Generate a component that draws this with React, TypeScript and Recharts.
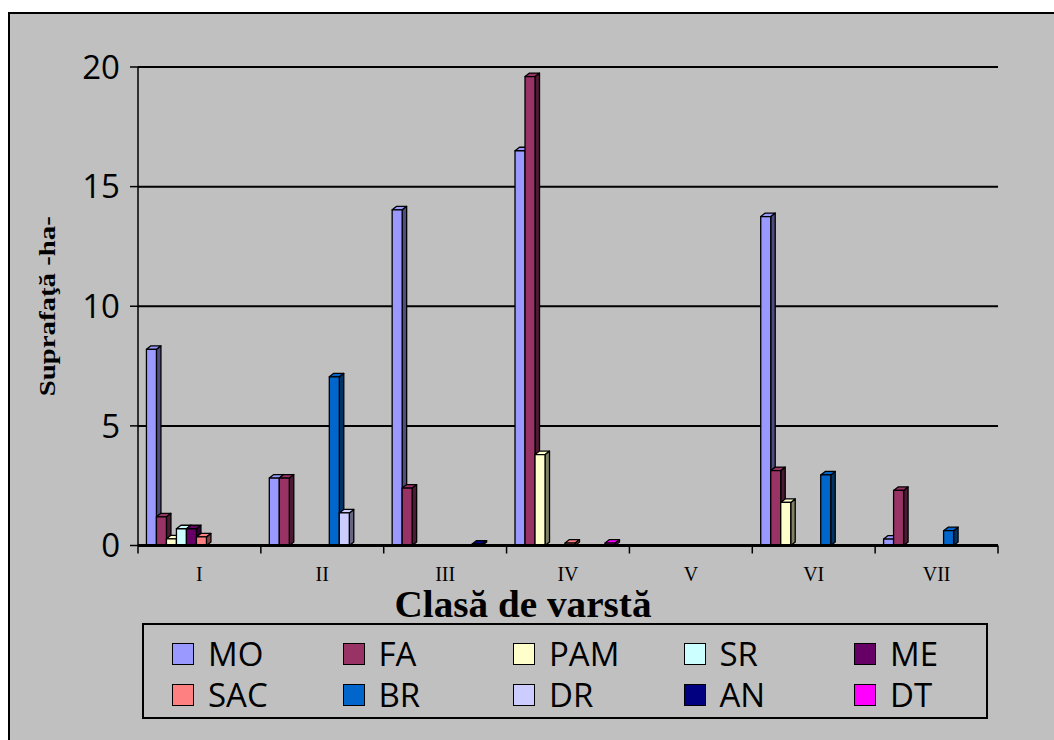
import { Bar, BarChart, CartesianGrid, Legend, XAxis, YAxis } from 'recharts';

const CATEGORIES = ['I', 'II', 'III', 'IV', 'V', 'VI', 'VII'];

const MO = [8.2, 2.82, 14.03, 16.5, 0, 13.75, 0.27];
const FA = [1.2, 2.82, 2.4, 19.6, 0, 3.13, 2.3];
const PAM = [0.28, 0, 0, 3.8, 0, 1.8, 0];
const SR = [0.7, 0, 0, 0, 0, 0, 0];
const ME = [0.7, 0, 0, 0, 0, 0, 0];
const SAC = [0.36, 0, 0, 0.1, 0, 0, 0];
const BR = [0, 7.05, 0, 0, 0, 2.95, 0.62];
const DR = [0, 1.36, 0, 0, 0, 0, 0];
const AN = [0, 0, 0.06, 0, 0, 0, 0];
const DT = [0, 0, 0, 0.1, 0, 0, 0];

const Y_TICKS = [0, 5, 10, 15, 20];

const SERIES = [
  { key: 'MO', values: MO, color: '#9999FF' },
  { key: 'FA', values: FA, color: '#993366' },
  { key: 'PAM', values: PAM, color: '#FFFFCC' },
  { key: 'SR', values: SR, color: '#CCFFFF' },
  { key: 'ME', values: ME, color: '#660066' },
  { key: 'SAC', values: SAC, color: '#FF8080' },
  { key: 'BR', values: BR, color: '#0066CC' },
  { key: 'DR', values: DR, color: '#CCCCFF' },
  { key: 'AN', values: AN, color: '#000080' },
  { key: 'DT', values: DT, color: '#FF00FF' },
];
const SERIES_ORDER = SERIES.map((s) => s.key);

const data = CATEGORIES.map((name, i) => {
  const row: Record<string, string | number> = { name };
  SERIES.forEach((s) => {
    row[s.key] = s.values[i];
  });
  return row;
});

const CHART_W = 1054;
const CHART_H = 740;
const MARGIN = { top: 67, right: 56, bottom: 164.5, left: 38 };
const Y_AXIS_W = 100;
const PLOT_W = CHART_W - MARGIN.left - MARGIN.right - Y_AXIS_W;
const BAND = PLOT_W / CATEGORIES.length;

const SANS = '"Open Sans", "Noto Sans", sans-serif';
const SERIF = '"Liberation Serif", "DejaVu Serif", serif';

function shade(hex: string, k: number): string {
  const n = parseInt(hex.slice(1), 16);
  const r = Math.round(((n >> 16) & 255) * k);
  const g = Math.round(((n >> 8) & 255) * k);
  const b = Math.round((n & 255) * k);
  return `rgb(${r},${g},${b})`;
}

// excel-ish 3d column: front face + side + top
function Column3D(props: any) {
  const { x, y, width, height, fill } = props;
  if (!height || height <= 0) return null;
  const dx = 4.5;
  const dy = 3.5;
  const x0 = x - 2;
  const w = width;
  const side = `${x0 + w},${y} ${x0 + w + dx},${y - dy} ${x0 + w + dx},${y + height - dy} ${x0 + w},${y + height}`;
  const top = `${x0},${y} ${x0 + dx},${y - dy} ${x0 + w + dx},${y - dy} ${x0 + w},${y}`;
  return (
    <g stroke="#000" strokeWidth={1.3} strokeLinejoin="round">
      <polygon points={side} fill={shade(fill, 0.5)} />
      <polygon points={top} fill={fill} />
      <rect x={x0} y={y} width={w} height={height} fill={fill} />
    </g>
  );
}

function CategoryTick(props: any) {
  const { x, y, payload, index } = props;
  const left = x - BAND / 2;
  const isLast = index === CATEGORIES.length - 1;
  return (
    <g>
      <line x1={left} y1={y} x2={left} y2={y + 8} stroke="#000" strokeWidth={1.5} />
      {isLast && (
        <line x1={x + BAND / 2} y1={y} x2={x + BAND / 2} y2={y + 8} stroke="#000" strokeWidth={1.5} />
      )}
      <text x={x} y={y + 35} textAnchor="middle" fontFamily={SERIF} fontSize={20} fill="#000">
        {payload.value}
      </text>
    </g>
  );
}

function XTitle(props: any) {
  const { viewBox } = props;
  return (
    <text
      x={viewBox.x + viewBox.width / 2 - 45}
      y={viewBox.y + 71}
      textAnchor="middle"
      fontFamily={SERIF}
      fontWeight="bold"
      fontSize={38}
      textLength={257}
      lengthAdjust="spacingAndGlyphs"
      fill="#000"
    >
      Clasă de varstă
    </text>
  );
}

function YTitle(props: any) {
  const { viewBox } = props;
  const cx = viewBox.x + 9;
  const cy = viewBox.y + viewBox.height / 2;
  return (
    <text
      x={cx}
      y={cy}
      transform={`rotate(-90 ${cx} ${cy})`}
      textAnchor="middle"
      dominantBaseline="central"
      fontFamily={SERIF}
      fontWeight="bold"
      fontSize={23}
      textLength={180}
      lengthAdjust="spacingAndGlyphs"
      fill="#000"
    >
      Suprafaţă -ha-
    </text>
  );
}

function BoxLegend(props: any) {
  const items = [...(props.payload ?? [])].sort(
    (a: any, b: any) => SERIES_ORDER.indexOf(a.value) - SERIES_ORDER.indexOf(b.value),
  );
  return (
    <div
      style={{
        boxSizing: 'border-box',
        width: '100%',
        height: '100%',
        border: '2px solid #000',
        paddingLeft: 28,
        paddingTop: 8,
        display: 'grid',
        gridTemplateColumns: 'repeat(5, 170.5px)',
        gridAutoRows: '41px',
      }}
    >
      {items.map((entry: any) => (
        <div key={entry.value} style={{ display: 'flex', alignItems: 'center' }}>
          <span
            style={{
              display: 'inline-block',
              boxSizing: 'border-box',
              width: 22,
              height: 22,
              background: entry.color,
              border: '1.5px solid #000',
              marginRight: 14,
            }}
          />
          <span style={{ fontFamily: SANS, fontSize: 33, lineHeight: 1, color: '#000' }}>
            {entry.value}
          </span>
        </div>
      ))}
    </div>
  );
}

export default function App() {
  return (
    <div
      style={{
        position: 'absolute',
        left: 0,
        top: 0,
        width: CHART_W,
        height: CHART_H,
        background: '#fff',
        overflow: 'hidden',
      }}
    >
      <div
        style={{
          position: 'absolute',
          left: 8,
          top: 12,
          width: 1080,
          height: 760,
          background: '#c0c0c0',
          borderTop: '2px solid #000',
          borderLeft: '2px solid #000',
          boxSizing: 'border-box',
        }}
      />
      <div style={{ position: 'absolute', left: 0, top: 0 }}>
        <BarChart
          width={CHART_W}
          height={CHART_H}
          data={data}
          margin={MARGIN}
          barGap={0}
          barCategoryGap="8.5%"
        >
          <CartesianGrid horizontal vertical={false} stroke="#000" strokeWidth={2} />
          <XAxis
            dataKey="name"
            height={30}
            tick={<CategoryTick />}
            tickLine={false}
            tickSize={0}
            tickMargin={0}
            axisLine={{ stroke: '#000', strokeWidth: 3 }}
            interval={0}
            label={{ content: <XTitle /> }}
          />
          <YAxis
            width={Y_AXIS_W}
            domain={[0, 20]}
            ticks={Y_TICKS}
            tickSize={8}
            tickMargin={10}
            tick={{ fill: '#000', fontSize: 33, fontFamily: SANS }}
            tickLine={{ stroke: '#000', strokeWidth: 1.5 }}
            axisLine={{ stroke: '#000', strokeWidth: 1.5 }}
            label={{ content: <YTitle /> }}
          />
          <Legend
            layout="horizontal"
            verticalAlign="middle"
            content={<BoxLegend />}
            wrapperStyle={{ position: 'absolute', left: 142, top: 623, width: 846, height: 96 }}
          />
          {SERIES.map((s) => (
            <Bar
              key={s.key}
              dataKey={s.key}
              name={s.key}
              fill={s.color}
              shape={<Column3D />}
              isAnimationActive={false}
            />
          ))}
        </BarChart>
      </div>
    </div>
  );
}
